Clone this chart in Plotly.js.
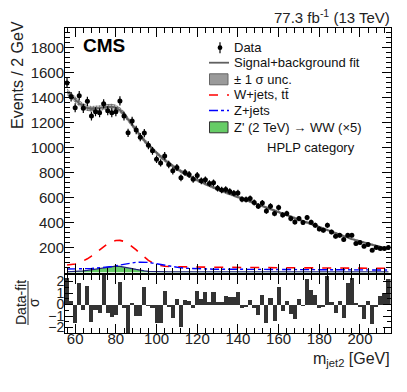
<!DOCTYPE html>
<html>
<head>
<meta charset="utf-8">
<script src="https://cdn.plot.ly/plotly-3.0.1.min.js"></script>
<style>
  html, body { margin: 0; padding: 0; background: #fff; }
  #plot { width: 407px; height: 392px; }
</style>
</head>
<body>
<div id="plot"></div>
<script>
// bin centres of m_jet2 (2 GeV bins, 55-215 GeV)
var mjet = [56, 58, 60, 62, 64, 66, 68, 70, 72, 74, 76, 78, 80, 82, 84, 86, 88, 90, 92, 94,
  96, 98, 100, 102, 104, 106, 108, 110, 112, 114, 116, 118, 120, 122, 124, 126, 128, 130, 132, 134,
  136, 138, 140, 142, 144, 146, 148, 150, 152, 154, 156, 158, 160, 162, 164, 166, 168, 170, 172, 174,
  176, 178, 180, 182, 184, 186, 188, 190, 192, 194, 196, 198, 200, 202, 204, 206, 208, 210, 212, 214];

var dataEvents = [1520, 1409, 1321, 1417, 1316, 1372, 1254, 1289, 1281, 1352, 1297, 1281, 1289, 1375, 1254, 1120, 1214, 1142, 1085, 1118,
  1021, 976, 909, 879, 935, 866, 815, 842, 759, 802, 786, 748, 778, 735, 743, 714, 719, 676, 662, 666,
  650, 636, 638, 588, 585, 593, 561, 532, 558, 494, 532, 473, 521, 462, 473, 433, 406, 433, 401, 441,
  403, 379, 350, 339, 379, 325, 291, 299, 264, 299, 299, 232, 240, 210, 224, 178, 200, 192, 192, 200];

var fitEvents = [1450, 1418, 1385, 1356, 1333, 1318, 1311, 1312, 1318, 1325, 1330, 1330, 1322, 1302, 1270, 1226, 1180, 1136, 1095, 1058,
  1023, 990, 958, 929, 902, 877, 853, 831, 810, 791, 773, 756, 740, 725, 710, 696, 682, 668, 655, 642,
  629, 617, 605, 593, 581, 569, 557, 545, 533, 521, 509, 497, 485, 473, 461, 449, 437, 425, 410, 398,
  386, 373, 360, 348, 336, 324, 312, 300, 289, 279, 269, 259, 249, 240, 231, 222, 213, 205, 197, 189];

var fitUnc = [26, 25, 24, 24, 23, 23, 23, 23, 23, 23, 23, 23, 23, 22, 22, 21, 21, 20, 20, 19,
  18, 18, 17, 17, 16, 16, 16, 15, 15, 15, 15, 14, 14, 14, 14, 13, 13, 13, 13, 13,
  12, 12, 12, 12, 12, 12, 12, 11, 11, 11, 11, 11, 11, 11, 11, 11, 10, 10, 10, 10,
  10, 10, 10, 10, 10, 10, 10, 10, 10, 10, 10, 10, 10, 10, 10, 10, 10, 10, 10, 10];

var wjets = [60, 63, 68, 78, 92, 110, 132, 158, 185, 210, 232, 248, 257, 258, 250, 233, 210, 182, 152, 123,
  98, 78, 64, 56, 51, 48, 47, 46, 46, 45, 45, 44, 44, 44, 43, 43, 43, 43, 42, 42,
  42, 42, 41, 41, 41, 41, 40, 40, 40, 40, 40, 39, 39, 39, 39, 39, 38, 38, 38, 38,
  38, 37, 37, 37, 37, 37, 36, 36, 36, 36, 36, 35, 35, 35, 35, 35, 34, 34, 34, 34];

var zjets = [28, 28, 28, 29, 30, 31, 33, 35, 37, 40, 44, 49, 55, 61, 67, 73, 78, 82, 84, 84,
  81, 76, 70, 63, 57, 51, 46, 42, 38, 35, 33, 31, 30, 29, 28, 28, 27, 27, 27, 26,
  26, 26, 26, 25, 25, 25, 25, 25, 25, 24, 24, 24, 24, 24, 24, 23, 23, 23, 23, 23,
  23, 23, 22, 22, 22, 22, 22, 22, 22, 21, 21, 21, 21, 21, 21, 21, 20, 20, 20, 20];

var signal = [6, 7, 8, 10, 13, 17, 22, 28, 34, 40, 45, 49, 51, 50, 46, 40, 32, 25, 18, 13,
  10, 8, 7, 7, 6, 6, 6, 6, 6, 6, 6, 6, 6, 6, 6, 6, 6, 6, 6, 6,
  6, 6, 6, 6, 6, 6, 6, 6, 6, 6, 6, 6, 6, 6, 6, 6, 6, 6, 6, 6,
  5, 5, 5, 5, 5, 5, 5, 5, 5, 5, 5, 5, 5, 5, 5, 5, 5, 5, 5, 5];

var pulls = [2.3, 0.3, -1.6, 1.85, -0.5, 1.65, -1.5, -0.5, -0.7, 2.6,
  -0.7, -1.1, -0.9, 2.0, -0.3, -2.6, 0.1, -1.0, -1.0, 1.5,
  -0.1, -0.3, -1.6, -1.6, 1.2, -0.2, -1.2, 0.5, -2.0, 0.4,
  0.35, -0.3, 1.2, 0.5, 1.1, 0.2, 1.1, 0.2, 0.2, 0.7,
  0.65, 0.65, 1.1, -0.3, -0.2, 0.4, -0.3, -0.9, 0.8, -1.6,
  0.6, -1.4, 1.5, -0.6, 0.3, -0.8, -1.3, 0.5, -0.1, 2.2,
  1.3, 0.8, -0.3, -0.2, 2.5, 0.2, -0.7, 0.3, -1.2, 1.9,
  2.3, 0.1, -0.2, -1.3, 0.3, -1.7, -0.2, 0.7, 1.0, 2.2];

var W = 407, H = 392;
var FONT = 'Liberation Sans, Arial, Helvetica, sans-serif';
function px(x) { return x / W; }
function py(y) { return 1 - y / H; }

var fitLo = fitEvents.map(function (v, i) { return v - fitUnc[i]; });
var fitHi = fitEvents.map(function (v, i) { return v + fitUnc[i]; });

var traces = [
  { x: mjet, y: fitLo, type: 'scatter', mode: 'lines', line: {width: 0, color: '#999'}, hoverinfo: 'skip' },
  { x: mjet, y: fitHi, type: 'scatter', mode: 'lines', line: {width: 0, color: '#999'}, fill: 'tonexty',
    fillcolor: '#b0b0b0', fillpattern: {shape: '+', size: 3, fgcolor: '#666', bgcolor: '#bbbbbb', solidity: 0.4} },
  { x: mjet, y: fitEvents, type: 'scatter', mode: 'lines', line: {color: '#606060', width: 1.8} },
  { x: mjet, y: signal, type: 'scatter', mode: 'lines', fill: 'tozeroy', fillcolor: '#66cc66',
    line: {color: '#22227a', width: 1.2} },
  { x: mjet, y: wjets, type: 'scatter', mode: 'lines', line: {color: '#ff0000', width: 1.6, dash: 'dash'} },
  { x: mjet, y: zjets, type: 'scatter', mode: 'lines', line: {color: '#0000ff', width: 1.4, dash: 'dashdot'} },
  { x: mjet, y: dataEvents, type: 'scatter', mode: 'markers', marker: {color: 'black', size: 5},
    error_y: {type: 'sqrt', color: 'black', thickness: 1.2, width: 0} },
  { x: mjet, y: pulls, type: 'bar', xaxis: 'x2', yaxis: 'y2', width: 2,
    marker: {color: '#333333', line: {width: 0}} }
];

var xDom = [px(65), px(390.5)];
var axisCommon = {
  showline: true, linecolor: 'black', linewidth: 1, mirror: 'allticks',
  ticks: 'inside', tickcolor: 'black', showgrid: false, zeroline: false,
  tickfont: {family: FONT, size: 15, color: '#222'}
};

var layout = {
  width: W, height: H,
  margin: {l: 0, r: 0, t: 0, b: 0, pad: 0},
  paper_bgcolor: 'white', plot_bgcolor: 'white',
  showlegend: false, bargap: 0,
  font: {family: FONT, color: '#222'},
  xaxis: Object.assign({}, axisCommon, {
    domain: xDom, anchor: 'y', range: [55, 215], tick0: 0, dtick: 20, ticklen: 9,
    showticklabels: false, minor: {dtick: 4, ticklen: 5, ticks: 'inside', tickcolor: 'black'}
  }),
  yaxis: Object.assign({}, axisCommon, {
    domain: [py(272.5), py(28)], anchor: 'x', range: [0.5, 1960], tick0: 0, dtick: 200, ticklen: 9,
    ticklabelstandoff: -3,
    minor: {dtick: 40, ticklen: 5, ticks: 'inside', tickcolor: 'black'}
  }),
  xaxis2: Object.assign({}, axisCommon, {
    domain: xDom, anchor: 'y2', range: [55, 215], tick0: 0, dtick: 20, ticklen: 9,
    ticklabelstandoff: -8,
    minor: {dtick: 4, ticklen: 5, ticks: 'inside', tickcolor: 'black'}
  }),
  yaxis2: Object.assign({}, axisCommon, {
    domain: [py(333), py(275)], anchor: 'x2', range: [-2.48, 2.57],
    tickmode: 'array', tickvals: [-2, -1, 0, 1, 2], ticktext: ['\u22122', '\u22121', '0', '1', '2'], ticklen: 8,
    ticklabelstandoff: -3, tickfont: {family: FONT, size: 14, color: '#222'},
    minor: {dtick: 0.5, ticklen: 4, ticks: 'inside', tickcolor: 'black'}
  }),
  annotations: [],
  shapes: []
};

function note(text, x, y, opts) {
  var a = {text: text, x: px(x), y: py(y), xref: 'paper', yref: 'paper', showarrow: false,
    xanchor: 'left', yanchor: 'middle', font: {family: FONT, size: 13, color: '#111'}};
  layout.annotations.push(Object.assign(a, opts || {}));
}

note('<b>CMS</b>', 81, 46, {font: {family: FONT, size: 19, color: '#000'}});
note('77.3 fb<sup>-1</sup> (13 TeV)', 392, 16, {xanchor: 'right', font: {family: FONT, size: 15, color: '#222'}});
note('Events / 2 GeV', 17, 75, {xanchor: 'center', textangle: -90, font: {family: FONT, size: 16, color: '#222'}});
note('m<sub>jet2</sub> [GeV]', 392, 359, {xanchor: 'right', font: {family: FONT, size: 16, color: '#222'}});
note('Data-fit', 21, 303, {xanchor: 'center', textangle: -90, font: {family: FONT, size: 14, color: '#222'}});
note('\u03c3', 34, 303, {xanchor: 'center', textangle: -90, font: {family: FONT, size: 14, color: '#222'}});

// legend
var rows = [47.7, 62.7, 79.3, 95, 110.5, 127.3];
note('Data', 232, rows[0]);
note('Signal+background fit', 232, rows[1]);
note('\u00b1 1 \u03c3 unc.', 232, rows[2]);
note('W+jets, tt\u0304', 232, rows[3]);
note('Z+jets', 232, rows[4]);
note('Z\' (2 TeV) \u2192 WW (\u00d75)', 232, rows[5]);
note('HPLP category', 357, 147.7, {xanchor: 'right'});

function seg(x0, y0, x1, y1, line) {
  layout.shapes.push({type: 'line', xref: 'paper', yref: 'paper', x0: px(x0), y0: py(y0), x1: px(x1), y1: py(y1), line: line});
}
function box(x0, y0, x1, y1, fill, line) {
  layout.shapes.push({type: 'rect', xref: 'paper', yref: 'paper', x0: px(x0), y0: py(y0), x1: px(x1), y1: py(y1),
    fillcolor: fill, line: line});
}

seg(28, 281, 28, 325, {color: '#222', width: 1});
seg(220, rows[0] - 5.5, 220, rows[0] + 5.5, {color: 'black', width: 1.2});
layout.shapes.push({type: 'circle', xref: 'paper', yref: 'paper', x0: px(217.6), x1: px(222.4),
  y0: py(rows[0] - 2.4), y1: py(rows[0] + 2.4), fillcolor: 'black', line: {color: 'black', width: 0}});
seg(209, rows[1], 229, rows[1], {color: '#606060', width: 1.8});
box(209.5, rows[2] - 5.5, 228, rows[2] + 5.5, '#9a9a9a', {color: '#666', width: 1});
seg(209, rows[3], 229, rows[3], {color: '#ff0000', width: 1.6, dash: 'dash'});
seg(209, rows[4], 229, rows[4], {color: '#0000ff', width: 1.4, dash: 'dashdot'});
box(209.5, rows[5] - 5.5, 228, rows[5] + 5.5, '#66cc66', {color: '#333', width: 1});

Plotly.newPlot('plot', traces, layout, {staticPlot: true, displayModeBar: false});
</script>
</body>
</html>
